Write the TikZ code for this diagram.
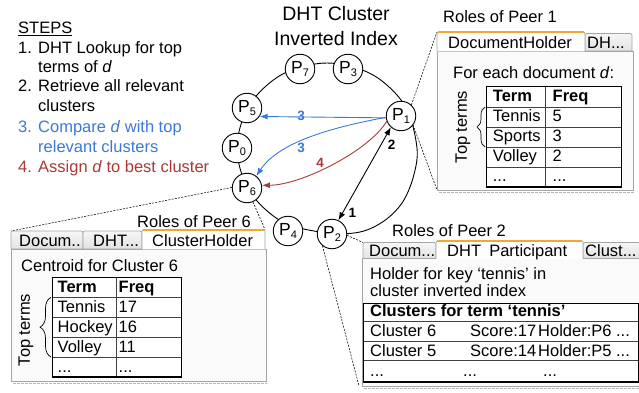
\documentclass[tikz,border=0pt]{standalone}
\usepackage{fontspec}
\setmainfont{Liberation Sans}
\usetikzlibrary{arrows.meta,decorations.pathreplacing}
\definecolor{stepblue}{HTML}{3C78D8}
\definecolor{stepred}{HTML}{A93A35}
\definecolor{taborange}{HTML}{F0A830}
\definecolor{tabgray}{HTML}{A5A5A5}
\definecolor{bodyfill}{HTML}{FAFAFA}
\definecolor{tabtop}{HTML}{F6F6F6}
\definecolor{tabbot}{HTML}{E2E2E2}
\newcommand{\fs}{\fontsize{16.5}{19.8}\selectfont}
\newcommand{\peerlab}[1]{{\fontsize{17.5}{19}\selectfont P\raisebox{-0.4ex}{\fontsize{11}{12}\selectfont #1}}}
\begin{document}
\begin{tikzpicture}[x=1pt,y=-1pt,font=\fs,
  txt/.style={inner sep=0pt,anchor=base west},
  ctxt/.style={inner sep=0pt,anchor=base},
  num/.style={font=\bfseries\fontsize{13.5}{15}\selectfont,inner sep=0pt},
  peer/.style={circle,draw,fill=white,line width=0.9pt,minimum size=29.5pt,inner sep=0pt},
  ringline/.style={line width=0.9pt},
  dlink/.style={line width=0.55pt,dash pattern=on 2pt off 1.3pt},
  tabin/.style={draw=tabgray,line width=0.7pt,top color=tabtop,bottom color=tabbot},
  tabact/.style={fill=white,draw=tabgray,line width=0.7pt},
  tabedge/.style={draw=taborange,line width=2pt},
  bodybox/.style={draw=tabgray,line width=0.7pt,fill=bodyfill},
  shadowline/.style={draw=black!28,line width=1.3pt,dash pattern=on 3pt off 1pt},
  tblin/.style={line width=0.6pt,draw=black!75},
  tblout/.style={line width=1pt},
  tblbot/.style={line width=1.8pt},
  bluearr/.style={draw=stepblue,line width=0.9pt,-{Latex[length=8pt,width=6pt]}},
  redarr/.style={draw=stepred,line width=0.9pt,-{Latex[length=8pt,width=6pt]}},
  blkarr/.style={draw=black,line width=0.9pt,{Latex[length=8pt,width=6pt]}-{Latex[length=8pt,width=6pt]}},
  bracedec/.style={decorate,decoration={brace,amplitude=#1},line width=0.7pt}
]
\useasboundingbox (0,0) rectangle (639,393);
\clip (0,0) rectangle (639,393);

% ---------- steps ----------
\node[txt] (stepsT) at (18,33.3) {\underline{STEPS}};
\node[txt] (n1) at (18,53.3) {1.};
\node[txt] (s1a) at (38,53.3) {DHT Lookup for top};
\node[txt] (s1b) at (38,72.7) {terms of \textit{d}};
\node[txt] (n2) at (18,91.9) {2.};
\node[txt] (s2a) at (38,91.9) {Retrieve all relevant};
\node[txt] (s2b) at (38,111.7) {clusters};
\node[txt,text=stepblue] (n3) at (18,132.7) {3.};
\node[txt,text=stepblue] (s3a) at (38,132.7) {Compare \textit{d} with top};
\node[txt,text=stepblue] (s3b) at (38,152.7) {relevant clusters};
\node[txt,text=stepred] (n4) at (18,172.2) {4.};
\node[txt,text=stepred] (s4a) at (38,172.2) {Assign \textit{d} to best cluster};

% ---------- title ----------
\node[ctxt,font=\fontsize{19.5}{23}\selectfont] (title1) at (336,20.7) {DHT Cluster};
\node[ctxt,font=\fontsize{19.5}{23}\selectfont] (title2) at (336,45.7) {Inverted Index};

% ---------- ring ----------
\draw[ringline] plot[smooth cycle,tension=0.55] coordinates {
  (327,63) (372,74.4) (404.9,105.5) (417,148) (413,178) (402,203) (384,221) (360,232)
  (327,233) (282,221.6) (249.1,190.5) (237,148) (249.1,105.5) (282,74.4)};

\node[peer] (P7) at (300,69) {\peerlab{7}};
\node[peer] (P3) at (348,69) {\peerlab{3}};
\node[peer] (P5) at (247,108) {\peerlab{5}};
\node[peer] (P1) at (401,116) {\peerlab{1}};
\node[peer] (P0) at (237,148) {\peerlab{0}};
\node[peer] (P6) at (247,188) {\peerlab{6}};
\node[peer] (P4) at (288,231) {\peerlab{4}};
\node[peer] (P2) at (332,234) {\peerlab{2}};

% ---------- arrows ----------
\draw[bluearr] (P1.187) -- (P5.-34);
\draw[bluearr] (P1.185) .. controls (340,126) and (280,140) .. (P6.52);
\draw[redarr] (P1.200) .. controls (370,150) and (302,185) .. (P6.10);
\draw[blkarr] (P1.228) -- (P2.65);
\node[num,text=stepblue] (l3a) at (301,115.5) {3};
\node[num,text=stepblue] (l3b) at (301,148.3) {3};
\node[num,text=stepred] (l4) at (320,163.3) {4};
\node[num] (l2) at (391.7,144.3) {2};
\node[num] (l1) at (352.3,213.3) {1};

% ---------- panel 1 ----------
\coordinate (c1a) at (437,32);
\coordinate (c1b) at (437,190);
\draw[dlink] (P1.47) -- (c1a);
\draw[dlink] (P1.-37) -- (c1b);
\node[txt] (r1) at (443,22.7) {Roles of Peer 1};
\draw[bodybox] (437,51) rectangle (633,190);
\draw[shadowline] (439,192.5) -- (634,192.5);
\draw[tabin] (585,51) [rounded corners=2pt]-- (585,33.5) -- (632,33.5) [sharp corners]-- (632,51) -- cycle;
\draw[tabact] (437,51.4) [rounded corners=2pt]-- (437,32) -- (585,32) [sharp corners]-- (585,51.4);
\draw[tabedge] (438,32) -- (584,32);
\node[txt] (t1a) at (448,48.8) {DocumentHolder};
\node[txt] (t1b) at (587,48.8) {DH...};
\node[txt] (b1) at (453,78.3) {For each document \textit{d}:};
\fill[white] (486,87) rectangle (621,187);
\foreach \yy in {107,127,147,167} \draw[tblin] (486,\yy) -- (621,\yy);
\draw[tblin] (545,87) -- (545,187);
\draw[tblout] (486,187) -- (486,87) -- (621,87) -- (621,187);
\draw[tblbot] (485.5,187) -- (621.5,187);
\node[txt,font=\bfseries\fs] (h1a) at (492.7,101.7) {Term};
\node[txt,font=\bfseries\fs] (h1b) at (552.5,101.7) {Freq};
\node[txt] (a1) at (492.7,121.7) {Tennis};
\node[txt] (a2) at (552.5,121.7) {5};
\node[txt] (a3) at (492.7,141.7) {Sports};
\node[txt] (a4) at (552.5,141.7) {3};
\node[txt] (a5) at (492.7,161.7) {Volley};
\node[txt] (a6) at (552.5,161.7) {2};
\node[txt] (a7) at (492.7,181.7) {...};
\node[txt] (a8) at (552.5,181.7) {...};
\node[rotate=90,inner sep=0pt] (tt1) at (463,127) {Top terms};
\draw[bracedec=8pt] (485,147) -- (485,107);

% ---------- panel 6 ----------
\coordinate (c6a) at (11,231);
\coordinate (c6b) at (265,229.5);
\draw[dlink] (P6.178) -- (c6a);
\draw[dlink] (P6.-67) -- (c6b);
\node[txt] (r6) at (137,227) {Roles of Peer 6};
\draw[bodybox] (11,249) rectangle (266,381);
\draw[shadowline] (13,383.5) -- (267,383.5);
\draw[tabin] (11,249) [rounded corners=2pt]-- (11,231) -- (83,231) [sharp corners]-- (83,249) -- cycle;
\draw[tabin] (83,249) [rounded corners=2pt]-- (83,231) -- (142,231) [sharp corners]-- (142,249) -- cycle;
\draw[tabact] (142,249.4) [rounded corners=2pt]-- (142,229.5) -- (265,229.5) [sharp corners]-- (265,249.4);
\draw[tabedge] (143,229.5) -- (264,229.5);
\node[txt] (t6a) at (19,246.5) {Docum..};
\node[txt] (t6b) at (93,246.5) {DHT...};
\node[txt] (t6c) at (152,246.5) {ClusterHolder};
\node[txt] (b6) at (21,271.7) {Centroid for Cluster 6};
\fill[white] (52,277.3) rectangle (181,377.3);
\foreach \yy in {297.3,317.3,337.3,357.3} \draw[tblin] (52,\yy) -- (181,\yy);
\draw[tblin] (116,277.3) -- (116,377.3);
\draw[tblout] (52,377.3) -- (52,277.3) -- (181,277.3) -- (181,377.3);
\draw[tblbot] (51.5,377.3) -- (181.5,377.3);
\node[txt,font=\bfseries\fs] (h6a) at (57.5,292) {Term};
\node[txt,font=\bfseries\fs] (h6b) at (118.5,292) {Freq};
\node[txt] (e1) at (57.5,312) {Tennis};
\node[txt] (e2) at (118.5,312) {17};
\node[txt] (e3) at (57.5,332) {Hockey};
\node[txt] (e4) at (118.5,332) {16};
\node[txt] (e5) at (57.5,352) {Volley};
\node[txt] (e6) at (118.5,352) {11};
\node[txt] (e7) at (57.5,372) {...};
\node[txt] (e8) at (118.5,372) {...};
\node[rotate=90,inner sep=0pt] (tt6) at (26,330) {Top terms};
\draw[bracedec=11pt] (51,357) -- (51,297.3);

% ---------- panel 2 ----------
\coordinate (c2a) at (363,242.5);
\coordinate (c2b) at (359,386);
\draw[dlink] (P2.-5) -- (c2a);
\draw[dlink] (P2.231) -- (c2b);
\node[txt] (r2) at (392,236.7) {Roles of Peer 2};
\draw[bodybox] (362,258.5) rectangle (650,386);
\draw[shadowline] (364,388.5) -- (650,388.5);
\draw[tabin] (363,258.5) [rounded corners=2pt]-- (363,242.5) -- (436,242.5) [sharp corners]-- (436,258.5) -- cycle;
\draw[tabin] (583,258.5) [rounded corners=2pt]-- (583,242.5) -- (640,242.5) [sharp corners]-- (640,258.5) -- cycle;
\draw[tabact] (436,258.9) [rounded corners=2pt]-- (436,241) -- (583,241) [sharp corners]-- (583,258.9);
\draw[tabedge] (437,241) -- (582,241);
\node[txt] (t2a) at (369,256.5) {Docum...};
\node[txt] (t2b) at (447,256.5) {DHT\hspace{8.2pt}Participant};
\node[txt] (t2c) at (585,256.5) {Clust...};
\node[txt] (b2a) at (370,279) {Holder for key `tennis' in};
\node[txt] (b2b) at (370,296) {cluster inverted index};
\fill[white] (363,303.3) rectangle (638,381.7);
\foreach \yy in {321.7,341,360.7} \draw[tblin] (363,\yy) -- (638,\yy);
\draw[tblout] (363,381.7) -- (363,303.3) -- (638,303.3) -- (638,381.7);
\draw[tblbot] (362.5,381.7) -- (638.5,381.7);
\node[txt,font=\bfseries\fs] (h2) at (370,316) {Clusters for term `tennis'};
\node[txt] (g1) at (370,336.7) {Cluster 6};
\node[txt] (g2) at (470,336.7) {Score:17};
\node[txt] (g3) at (538,336.7) {Holder:P6 ...};
\node[txt] (g4) at (370,356.7) {Cluster 5};
\node[txt] (g5) at (470,356.7) {Score:14};
\node[txt] (g6) at (538,356.7) {Holder:P5 ...};
\node[txt] (g7) at (370,376.7) {...};
\node[txt] (g8) at (463,376.7) {...};
\node[txt] (g9) at (543,376.7) {...};
\end{tikzpicture}
\end{document}
